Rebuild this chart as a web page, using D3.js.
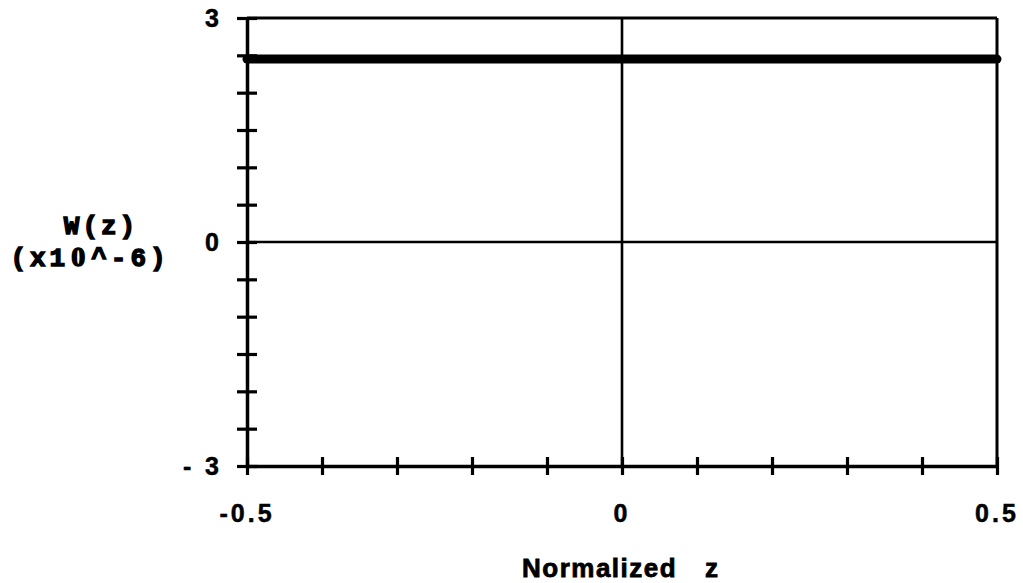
<!DOCTYPE html>
<html>
<head>
<meta charset="utf-8">
<script src="https://cdn.jsdelivr.net/npm/d3@7"></script>
<style>
  html, body { margin: 0; padding: 0; background: #fff; }
  svg { display: block; }
</style>
</head>
<body>
<svg id="chart" width="1023" height="583"></svg>
<script>
// W(z) profile across normalized z (values in units of 1e-6)
const zValues = [-0.5, -0.4, -0.3, -0.2, -0.1, 0, 0.1, 0.2, 0.3, 0.4, 0.5];
const wValues = [2.45, 2.45, 2.45, 2.45, 2.45, 2.45, 2.45, 2.45, 2.45, 2.45, 2.45];

// Axis ticks and their labels
const xTicks = [-0.5, -0.4, -0.3, -0.2, -0.1, 0, 0.1, 0.2, 0.3, 0.4, 0.5];
const xLabelTicks = [-0.5, 0, 0.5];
const xLabelText = ["-0.5", "0", "0.5"];
const yTicks = [-3, -2.5, -2, -1.5, -1, -0.5, 0, 0.5, 1, 1.5, 2, 2.5, 3];
const yLabelTicks = [3, 0, -3];
const yLabelText = ["3", "0", "-  3"];

const svg = d3.select("#chart");
const plotLeft = 247, plotRight = 997, plotTop = 18, plotBottom = 466;

const x = d3.scaleLinear().domain([-0.5, 0.5]).range([plotLeft, plotRight]);
const y = d3.scaleLinear().domain([-3, 3]).range([plotBottom, plotTop]);

const sans = "'Liberation Sans', Arial, Helvetica, sans-serif";
const mono = "'Liberation Mono', 'Courier New', Courier, monospace";
const serif = "'Liberation Serif', 'Times New Roman', serif";

// Frame: top and right borders
svg.append("line").attr("x1", x(-0.5)).attr("x2", x(0.5))
  .attr("y1", y(3)).attr("y2", y(3))
  .attr("stroke", "#000").attr("stroke-width", 3);
svg.append("line").attr("x1", x(0.5)).attr("x2", x(0.5))
  .attr("y1", y(3)).attr("y2", y(-3))
  .attr("stroke", "#000").attr("stroke-width", 3);

// Zero reference lines
svg.append("line").attr("x1", x(-0.5)).attr("x2", x(0.5))
  .attr("y1", y(0)).attr("y2", y(0))
  .attr("stroke", "#000").attr("stroke-width", 2.6);
svg.append("line").attr("x1", x(0)).attr("x2", x(0))
  .attr("y1", y(3)).attr("y2", y(-3))
  .attr("stroke", "#000").attr("stroke-width", 2.6);

// Bottom axis with crossing ticks
const xAxis = svg.append("g").attr("transform", `translate(0,${plotBottom})`)
  .call(d3.axisBottom(x).tickValues(xTicks).tickSize(9).tickSizeOuter(0).tickFormat(""));
xAxis.select(".domain").attr("stroke", "#000").attr("stroke-width", 3.5);
xAxis.selectAll(".tick line").attr("y1", -9).attr("y2", 9)
  .attr("stroke", "#000").attr("stroke-width", 3.2);

// Left axis with crossing ticks
const yAxis = svg.append("g").attr("transform", `translate(${plotLeft},0)`)
  .call(d3.axisLeft(y).tickValues(yTicks).tickSize(10).tickSizeOuter(0).tickFormat(""));
yAxis.select(".domain").attr("stroke", "#000").attr("stroke-width", 3.5);
yAxis.selectAll(".tick line").attr("x1", -10).attr("x2", 10)
  .attr("stroke", "#000").attr("stroke-width", 3.2);

// Data line
const line = d3.line().x((d, i) => x(zValues[i])).y(d => y(d));
svg.append("path").datum(wValues)
  .attr("d", line)
  .attr("fill", "none").attr("stroke", "#000")
  .attr("stroke-width", 9).attr("stroke-linecap", "round");

// Tick labels
svg.selectAll(".xlab").data(xLabelTicks).enter().append("text")
  .attr("x", d => x(d)).attr("y", 522)
  .attr("text-anchor", "middle")
  .style("font-family", sans).style("font-weight", "bold")
  .style("font-size", "25px").style("letter-spacing", "3px")
  .attr("stroke", "#000").attr("stroke-width", 0.5)
  .text((d, i) => xLabelText[i]);

svg.selectAll(".ylab").data(yLabelTicks).enter().append("text")
  .attr("x", 219).attr("y", d => y(d) + 9)
  .attr("text-anchor", "end")
  .style("font-family", sans).style("font-weight", "bold")
  .style("font-size", "25px").style("white-space", "pre")
  .attr("stroke", "#000").attr("stroke-width", 0.5)
  .text((d, i) => yLabelText[i]);

// Axis titles
const xt = svg.append("text").attr("y", 577)
  .style("font-family", sans).style("font-weight", "bold")
  .style("font-size", "26px").style("letter-spacing", "1.5px")
  .attr("stroke", "#000").attr("stroke-width", 0.8);
xt.append("tspan").attr("x", 522).text("Normalized");
xt.append("tspan").attr("x", 705).text("z");

svg.append("text").attr("x", 101).attr("y", 234)
  .attr("text-anchor", "middle")
  .style("font-family", mono).style("font-weight", "bold")
  .style("font-size", "26px").style("letter-spacing", "3px")
  .attr("stroke", "#000").attr("stroke-width", 1.4)
  .text("W(z)");

// Second title line: the zero is set in a plain-zero face
const unit = svg.append("text").attr("x", 90).attr("y", 266)
  .attr("text-anchor", "middle")
  .style("font-family", mono).style("font-weight", "bold")
  .style("font-size", "26px").style("letter-spacing", "4px")
  .attr("stroke", "#000").attr("stroke-width", 1.4);
unit.append("tspan").text("(x1");
unit.append("tspan").style("font-family", serif).style("font-size", "28px")
  .attr("dx", 2).text("0");
unit.append("tspan").attr("dx", 2).text("^-6)");
</script>
</body>
</html>
